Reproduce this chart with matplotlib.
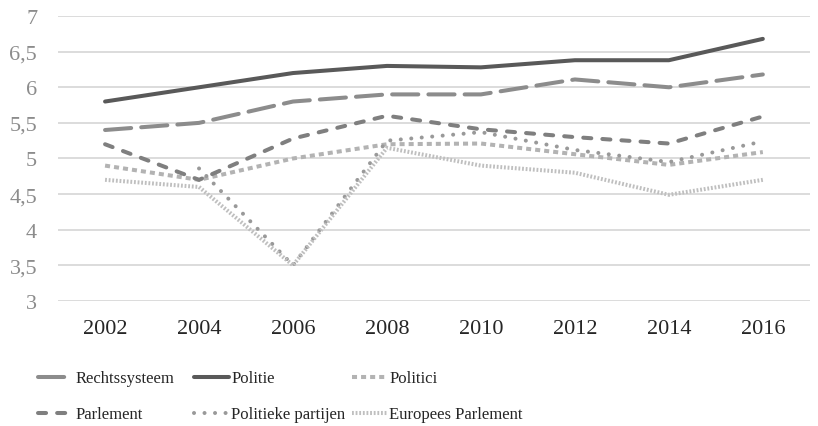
import matplotlib
matplotlib.use("Agg")
import matplotlib.pyplot as plt
import numpy as np

years = ["2002", "2004", "2006", "2008", "2010", "2012", "2014", "2016"]
rechtssysteem = [5.4, 5.5, 5.8, 5.9, 5.9, 6.11, 6.0, 6.18]
politie = [5.8, 6.0, 6.2, 6.3, 6.28, 6.38, 6.38, 6.68]
politici = [4.9, 4.7, 5.0, 5.2, 5.21, 5.06, 4.91, 5.09]
parlement = [5.2, 4.7, 5.28, 5.6, 5.41, 5.3, 5.21, 5.59]
politieke_partijen = [np.nan, 4.86, 3.5, 5.25, 5.37, 5.12, 4.95, 5.24]
europees_parlement = [4.7, 4.6, 3.5, 5.15, 4.9, 4.8, 4.49, 4.7]
yticks = [3, 3.5, 4, 4.5, 5, 5.5, 6, 6.5, 7]
ytick_labels = ["3", "3,5", "4", "4,5", "5", "5,5", "6", "6,5", "7"]

plt.rcParams['font.family'] = ['Liberation Serif', 'DejaVu Serif']

fig = plt.figure(figsize=(8.18, 4.27), dpi=100)
ax = fig.add_axes([0.071, 0.293, 0.919, 0.667])

x = np.arange(len(years))
lw = 2.9
l_recht, = ax.plot(x, rechtssysteem, color="#8c8c8c", lw=lw, dashes=(6.5, 2.5), dash_capstyle="round",
                   label="Rechtssysteem")
l_pol, = ax.plot(x, politie, color="#595959", lw=lw, solid_capstyle="round", label="Politie")
l_politici, = ax.plot(x, politici, color="#b3b3b3", lw=lw, dashes=(1.25, 1.0), dash_capstyle="butt",
                      label="Politici")
l_parl, = ax.plot(x, parlement, color="#7f7f7f", lw=lw, dashes=(2.0, 2.75), dash_capstyle="round",
                  label="Parlement")
l_pp, = ax.plot(x, politieke_partijen, color="#999999", lw=lw, dashes=(0.01, 2.6), dash_capstyle="round",
                label="Politieke partijen")
l_ep, = ax.plot(x, europees_parlement, color="#bfbfbf", lw=lw, dashes=(0.45, 0.45), dash_capstyle="butt",
                label="Europees Parlement")

ax.set_xlim(-0.5, len(years) - 0.5)
ax.set_ylim(3, 7)
ax.set_yticks(yticks)
ax.set_yticklabels(ytick_labels)
ax.set_xticks(x)
ax.set_xticklabels(years)
ax.grid(axis="y", color="#d9d9d9", lw=1.3)
ax.set_axisbelow(True)
for s in ax.spines.values():
    s.set_visible(False)
ax.tick_params(axis="both", length=0, labelsize=16)
ax.tick_params(axis="y", colors="#8c8c8c", pad=15)
ax.tick_params(axis="x", colors="#262626", pad=13)

columns = [([l_recht, l_parl], 0.046), ([l_pol, l_pp], 0.237), ([l_politici, l_ep], 0.43)]
for hs, xpos in columns:
    leg = fig.legend(handles=hs, labels=[h.get_label() for h in hs], ncol=1,
                     loc="upper left", bbox_to_anchor=(xpos, 0.13), frameon=False,
                     fontsize=12, handlelength=2.1, handletextpad=0.15,
                     labelspacing=1.2, borderaxespad=0, borderpad=0)
    for t in leg.get_texts():
        t.set_color("#262626")

fig.savefig("out.png", dpi=100)
